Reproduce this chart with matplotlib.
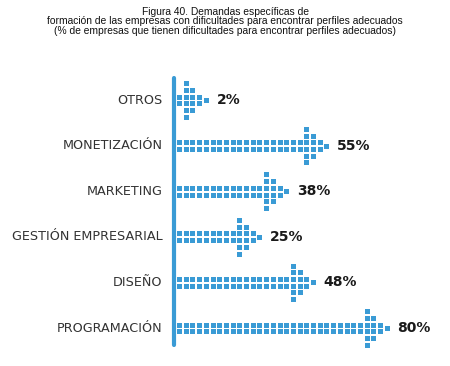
import matplotlib
matplotlib.use("Agg")
import matplotlib.pyplot as plt
import numpy as np

categories = ["OTROS", "MONETIZACIÓN", "MARKETING", "GESTIÓN EMPRESARIAL", "DISEÑO", "PROGRAMACIÓN"]
values = [2, 55, 38, 25, 48, 80]
value_labels = ["2%", "55%", "38%", "25%", "48%", "80%"]
title_lines = ["Figura 40. Demandas específicas de",
               "formación de las empresas con dificultades para encontrar perfiles adecuados",
               "(% de empresas que tienen dificultades para encontrar perfiles adecuados)"]

BLUE = "#3a9bd5"
W, H, DPI = 450, 366, 100
PITCH = 6.7          # pixels per square column
X0 = 179             # pixel of first column
Y0, DY = 100, 45.6   # pixel of first row, row spacing
COLS_PER_PCT = 0.35

fig = plt.figure(figsize=(W / DPI, H / DPI), dpi=DPI)
ax = fig.add_axes([0, 0, 1, 1])
ax.set_xlim(-X0 / PITCH, (W - X0) / PITCH)
ax.set_ylim((H - Y0) / DY, -Y0 / DY)
ax.axis("off")

r = PITCH / DY  # one row of squares in category units
head = [(0, [-2.5, -1.5, -0.5, 0.5, 1.5, 2.5]), (1, [-1.5, -0.5, 0.5, 1.5]), (2, [-0.5, 0.5]), (3, [0])]
msize = (5 * 72 / DPI) ** 2

for i, (cat, v, lab) in enumerate(zip(categories, values, value_labels)):
    n = max(1, int(round(v * COLS_PER_PCT)))
    xs, ys = [], []
    for c in range(n):
        for o in (-0.5, 0.5):
            xs.append(c); ys.append(i + o * r)
    for dc, offs in head:
        for o in offs:
            xs.append(n + dc); ys.append(i + o * r)
    ax.scatter(xs, ys, marker="s", s=msize, color=BLUE, linewidths=0, zorder=3)
    tip = n + 3
    ax.text(tip + 1.6, i, lab, ha="left", va="center", fontsize=10, fontweight="bold",
            color="#1a1a1a", family="DejaVu Sans")
    ax.text(-16 / PITCH - 0.05, i, cat, ha="right", va="center", fontsize=9.2,
            color="#333333", family="DejaVu Sans")

ax.plot([-5 / PITCH, -5 / PITCH], [-22 / DY, (len(categories) - 1) + 17 / DY],
        color=BLUE, lw=3.0, solid_capstyle="round", zorder=2)

for k, line in enumerate(title_lines):
    fig.text(0.5, 1 - (12 + 9.5 * k) / H, line, ha="center", va="center",
             fontsize=7.4, color="#111111", family="Liberation Sans")

fig.savefig("out.png", dpi=DPI, facecolor="white")
